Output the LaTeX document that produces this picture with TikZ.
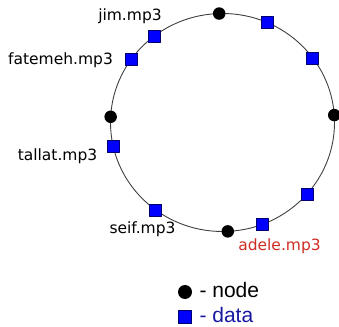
\documentclass[tikz,border=0pt]{standalone}
\usepackage{fontspec}
\setmainfont{DejaVu Sans}
\newfontfamily\keyfont{Liberation Sans}
\definecolor{fileblue}{RGB}{0,0,255}
\definecolor{fileedge}{RGB}{0,0,110}
\definecolor{datablue}{RGB}{25,25,160}
\definecolor{hitred}{RGB}{205,45,35}
\begin{document}
\begin{tikzpicture}[x=1pt, y=1pt, line cap=round, line join=round,
    font=\fontsize{15.5}{18}\selectfont,
    peer/.style={circle, fill=black, inner sep=0pt, minimum size=12.5pt},
    file/.style={rectangle, fill=fileblue, draw=fileedge, line width=0.6pt, inner sep=0pt, minimum size=12pt},
    keytext/.style={anchor=base west, font=\keyfont\fontsize{21}{24}\selectfont}]
  \useasboundingbox (0,0) rectangle (339,326);
  \path (222.5,203.5) coordinate (O);
  % the ring
  \draw[line width=0.9pt, black!75] (O) ellipse (112 and 109);
  % peers
  \foreach \name/\ang in {ptop/91.7, pright/3.9, pbot/-87.3, pleft/177} {
    \path (O) ++(\ang:112 and 109) node[peer] (\name) {};
  }
  % files
  \foreach \name/\ang in {fa/66.4, fb/36.4, fc/-41.1, adelef/-69.4, seiff/233.4,
                          tallatf/192.4, fatemehf/144.3, jimf/127.7} {
    \path (O) ++(\ang:112 and 109) node[file] (\name) {};
  }
  % file names
  \node[anchor=base] (jim) at (130,305.3) {jim.mp3};
  \node[anchor=base] (fatemeh) at (60.5,261) {fatemeh.mp3};
  \node[anchor=base] (tallat) at (57.5,165) {tallat.mp3};
  \node[anchor=base] (seif) at (142.5,92.7) {seif.mp3};
  \node[anchor=base, text=hitred] (adele) at (279.5,75) {adele.mp3};
  % key
  \node[peer, minimum size=14pt] (keypeer) at (185,34) {};
  \node[keytext] (keypeertxt) at (196,28.7) {- node};
  \node[file, minimum size=13pt] (keyfile) at (185,9) {};
  \node[keytext, text=datablue] (keyfiletxt) at (196,3.5) {- data};
\end{tikzpicture}
\end{document}
